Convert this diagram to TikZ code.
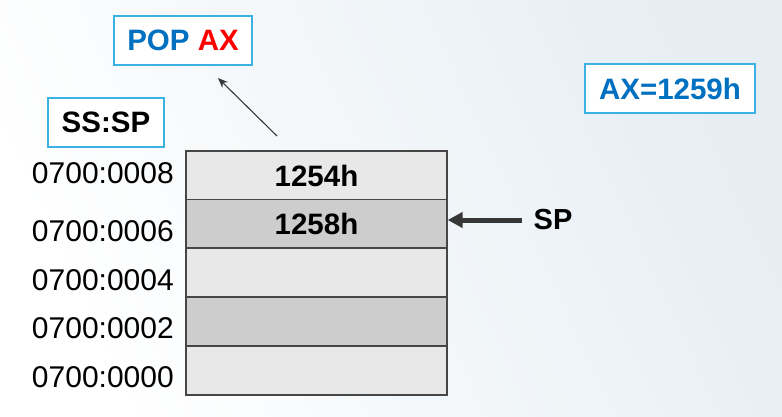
\documentclass[tikz,border=0pt]{standalone}
\usepackage{fontspec}
\setmainfont{Liberation Sans}
\usetikzlibrary{arrows.meta}
\definecolor{tblue}{RGB}{0,112,192}
\definecolor{tred}{RGB}{255,0,0}
\definecolor{boxline}{RGB}{60,178,228}
\definecolor{cellA}{RGB}{232,232,232}
\definecolor{cellB}{RGB}{205,205,205}
\definecolor{cellline}{RGB}{70,70,70}
\definecolor{bgright}{RGB}{230,238,244}
\definecolor{arrowgray}{RGB}{55,55,55}
\tikzset{
  labelbox/.style={draw=boxline, line width=1.6pt, fill=white, inner sep=0pt, font=\fontsize{29.5}{32}\selectfont\bfseries},
  cell/.style={draw=cellline, line width=1.2pt, minimum width=261pt, minimum height=49pt, inner sep=0pt, font=\fontsize{29.5}{32}\selectfont\bfseries},
  addr/.style={anchor=east, inner sep=0pt, font=\fontsize{30}{32}\selectfont},
}
\begin{document}
\begin{tikzpicture}[x=1pt,y=-1pt]
\useasboundingbox (0,0) rectangle (782,417);
\shade[left color=white, right color=bgright, shading angle=115] (0,0) rectangle (782,417);
% label boxes
\node[labelbox, minimum width=138pt, minimum height=49pt] (pop) at (183,40.5) {\textcolor{tblue}{POP} \textcolor{tred}{AX}};
\node[labelbox, minimum width=116pt, minimum height=49pt] (sssp) at (106,122.5) {SS:SP};
\node[labelbox, minimum width=170pt, minimum height=49pt, text=tblue] (ax) at (670,88.5) {AX=1259h};
% stack cells
\node[cell, fill=cellA] (c8) at (316.5,175.5) {1254h};
\node[cell, fill=cellB] (c6) at (316.5,224) {1258h};
\node[cell, fill=cellA] (c4) at (316.5,272.5) {};
\node[cell, fill=cellB] (c2) at (316.5,321.5) {};
\node[cell, fill=cellA] (c0) at (316.5,370.5) {};
% addresses
\node[addr] (a8) at (174,173) {0700:0008};
\node[addr] (a6) at (174,231) {0700:0006};
\node[addr] (a4) at (174,280) {0700:0004};
\node[addr] (a2) at (174,328) {0700:0002};
\node[addr] (a0) at (174,377) {0700:0000};
% SP pointer
\node[inner sep=0pt, font=\fontsize{29}{32}\selectfont\bfseries] (sp) at (553,220) {SP};
\coordinate (spstart) at (522,220);
\draw[arrowgray, line width=5pt, -{Triangle[length=15pt,width=15pt]}] (spstart) -- (c6.east |- spstart);
% pop arrow
\coordinate (popstart) at (277,136);
\coordinate (popend) at (218,78);
\draw[arrowgray, line width=1.1pt, -{Stealth[length=10pt,width=8pt]}] (popstart) -- (popend);
\end{tikzpicture}
\end{document}
